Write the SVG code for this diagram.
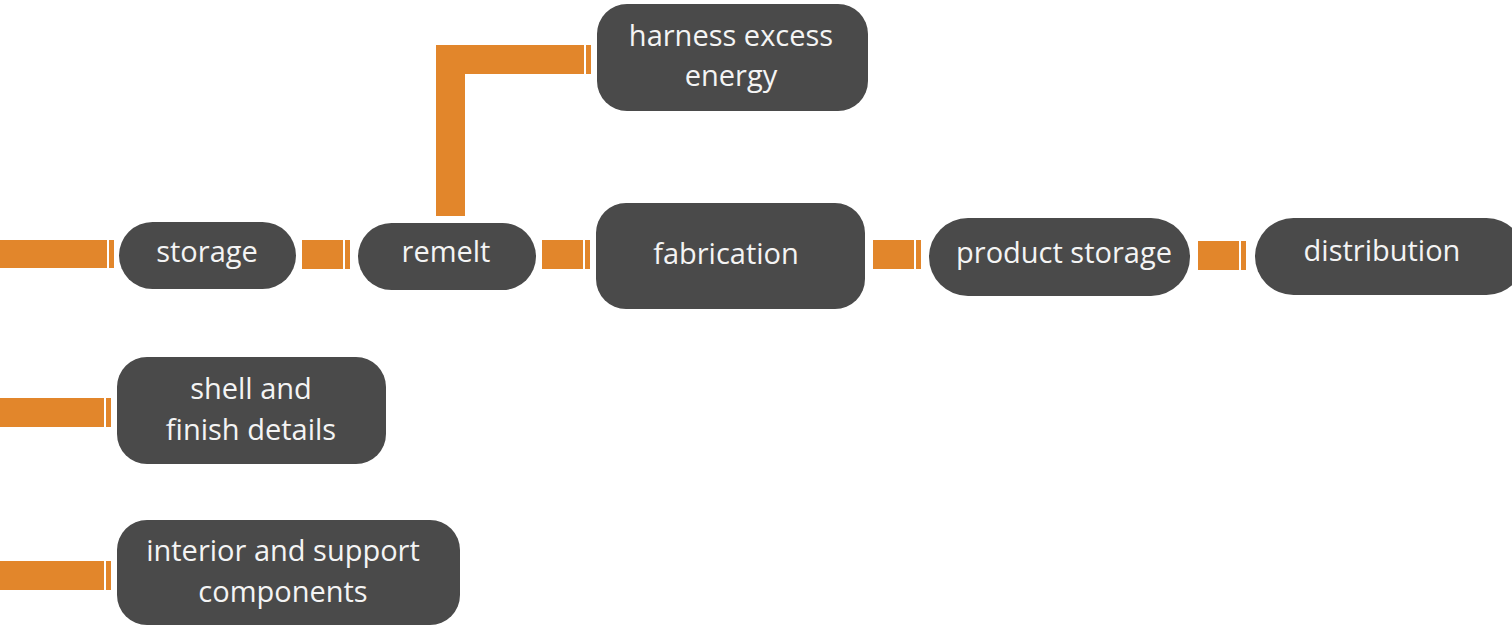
<svg xmlns="http://www.w3.org/2000/svg" width="1512" height="626" viewBox="0 0 1512 626">
<style>
.node{fill:#4a4a4a;}
.bar{fill:#e2862b;}
.lbl{font-family:"Open Sans","Liberation Sans",sans-serif;font-size:29px;fill:#f4f4f4;text-anchor:middle;}
</style>
<rect width="1512" height="626" fill="#ffffff"/>
<g id="connectors">
<rect class="bar" x="0" y="240" width="107" height="28"/><rect class="bar" x="109" y="240" width="5" height="28"/>
<rect class="bar" x="302" y="240" width="41" height="29"/><rect class="bar" x="345" y="240" width="5" height="29"/>
<rect class="bar" x="542" y="240" width="41" height="29"/><rect class="bar" x="585" y="240" width="5" height="29"/>
<rect class="bar" x="873" y="240" width="41" height="29"/><rect class="bar" x="916" y="240" width="5" height="29"/>
<rect class="bar" x="1198" y="241" width="41" height="29"/><rect class="bar" x="1241" y="241" width="5" height="29"/>
<path class="bar" d="M436 216 V45 H584 V74 H465 V216 Z"/><rect class="bar" x="586" y="45" width="5" height="29"/>
<rect class="bar" x="0" y="398" width="104" height="29"/><rect class="bar" x="106" y="398" width="5" height="29"/>
<rect class="bar" x="0" y="561" width="104" height="29"/><rect class="bar" x="106" y="561" width="5" height="29"/>
</g>
<g id="storage"><rect class="node" x="119" y="222" width="177" height="67" rx="33.5"/><text class="lbl" x="207" y="262">storage</text></g>
<g id="remelt"><rect class="node" x="358" y="223" width="178" height="67" rx="33.5"/><text class="lbl" x="446" y="262">remelt</text></g>
<g id="harness"><rect class="node" x="597" y="4" width="271" height="107" rx="30"/><text class="lbl" x="731" y="46">harness excess</text><text class="lbl" x="731" y="86">energy</text></g>
<g id="fabrication"><rect class="node" x="596" y="203" width="269" height="106" rx="30"/><text class="lbl" x="726" y="264">fabrication</text></g>
<g id="product-storage"><rect class="node" x="929" y="218" width="261" height="78" rx="39"/><text class="lbl" x="1064" y="263">product storage</text></g>
<g id="distribution"><rect class="node" x="1255" y="218" width="270" height="77" rx="38.5"/><text class="lbl" x="1382" y="261">distribution</text></g>
<g id="shell"><rect class="node" x="117" y="357" width="269" height="107" rx="30"/><text class="lbl" x="251" y="399">shell and</text><text class="lbl" x="251" y="440">finish details</text></g>
<g id="interior"><rect class="node" x="117" y="520" width="343" height="105" rx="30"/><text class="lbl" x="283" y="561">interior and support</text><text class="lbl" x="283" y="602">components</text></g>
</svg>
